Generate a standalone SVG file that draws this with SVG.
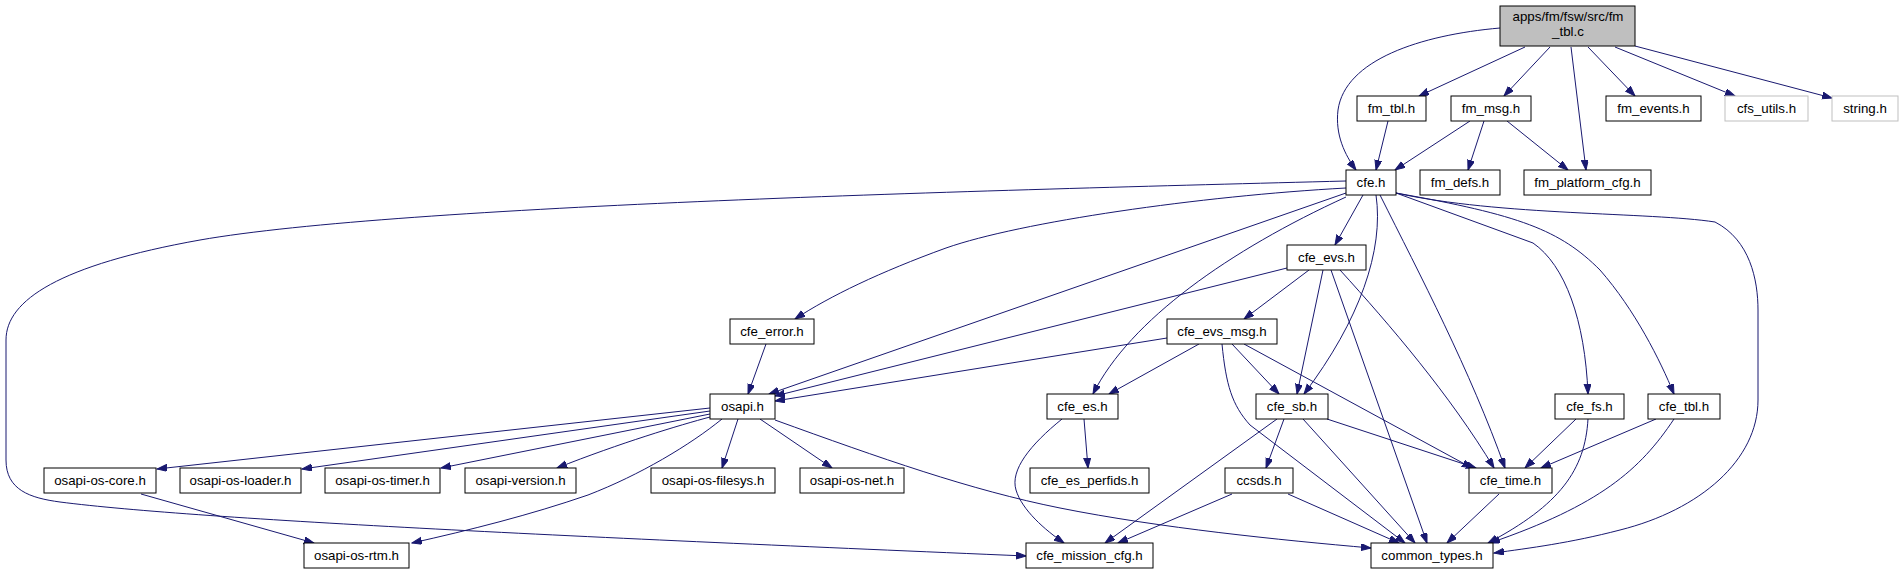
<svg xmlns="http://www.w3.org/2000/svg" width="1904" height="575" viewBox="0 0 1904 575">
<defs>
<marker id="ah" markerUnits="userSpaceOnUse" markerWidth="11" markerHeight="8" refX="10" refY="3.5" orient="auto">
<path d="M0,0 L10,3.5 L0,7 z" fill="#191970" stroke="#191970" stroke-width="1"/>
</marker>
<style>
.n rect{fill:#ffffff;stroke:#000000;stroke-width:1}
.n.g rect{stroke:#bfbfbf}
.n.r rect{fill:#bfbfbf}
.n text{font-family:"Liberation Sans",Arial,sans-serif;font-size:13.3px;fill:#000000;text-anchor:middle}
#edges path{fill:none;stroke:#191970;stroke-width:1;marker-end:url(#ah)}
</style>
</defs>
<rect width="1904" height="575" fill="#ffffff"/>
<g id="edges">
<path d="M1500,28 C1420,35 1345,60 1338,110 C1335,135 1345,155 1356,170"/>
<path d="M1525,47 L1419,96"/>
<path d="M1550,47 L1504,96"/>
<path d="M1571,47 L1586,170"/>
<path d="M1588,47 L1635,96"/>
<path d="M1615,47 L1735,96"/>
<path d="M1635,46 L1832,98"/>
<path d="M1388,121 L1376,170"/>
<path d="M1470,121 L1395,170"/>
<path d="M1484,121 L1468,170"/>
<path d="M1507,121 L1568,170"/>
<path d="M1346,181 C1000,190 400,205 200,240 C60,265 6,300 6,340 L6,460 C6,490 30,498 60,502 C200,520 600,538 1026,556"/>
<path d="M1346,188 C1200,196 1020,222 946,248 C880,272 830,296 795,319"/>
<path d="M1346,193 L769,394"/>
<path d="M1346,197 C1230,250 1130,320 1093,394"/>
<path d="M1363,195 L1335,245"/>
<path d="M1376,195 C1384,250 1360,320 1304,394"/>
<path d="M1380,195 C1420,275 1470,370 1505,468"/>
<path d="M1396,193 L1533,243 C1565,265 1585,320 1588,394"/>
<path d="M1396,193 C1520,215 1560,230 1600,270 C1635,310 1660,360 1674,394"/>
<path d="M1396,193 C1500,216 1650,212 1715,222 C1750,240 1758,280 1758,310 L1758,400 C1758,460 1700,510 1620,530 C1570,543 1530,548 1494,553"/>
<path d="M1287,268 L775,396"/>
<path d="M1309,270 L1244,319"/>
<path d="M1323,270 L1297,394"/>
<path d="M1331,270 L1427,543"/>
<path d="M1340,270 C1390,325 1450,395 1494,468"/>
<path d="M766,344 L748,394"/>
<path d="M1167,338 L775,401"/>
<path d="M1199,344 L1109,394"/>
<path d="M1222,344 C1226,385 1232,405 1250,425 L1405,543"/>
<path d="M1232,344 L1279,394"/>
<path d="M1244,344 L1472,468"/>
<path d="M710,408 L157,469"/>
<path d="M710,411 L302,469"/>
<path d="M710,414 L441,468"/>
<path d="M710,417 C680,425 620,443 557,468"/>
<path d="M722,419 C690,445 640,475 588,495 C530,515 470,530 412,543"/>
<path d="M738,419 L722,468"/>
<path d="M760,419 L832,468"/>
<path d="M775,420 C880,458 970,490 1060,508 C1160,528 1280,540 1371,548"/>
<path d="M141,494 L314,543"/>
<path d="M1084,419 L1088,468"/>
<path d="M1062,419 C1030,445 1010,470 1016,490 C1022,510 1045,530 1064,543"/>
<path d="M1277,419 L1105,543"/>
<path d="M1284,419 L1266,468"/>
<path d="M1303,419 L1415,543"/>
<path d="M1327,419 L1476,468"/>
<path d="M1232,494 L1118,543"/>
<path d="M1288,494 L1399,543"/>
<path d="M1499,494 L1447,543"/>
<path d="M1576,419 L1525,468"/>
<path d="M1588,419 C1585,470 1560,505 1488,543"/>
<path d="M1656,419 L1541,468"/>
<path d="M1674,419 C1640,470 1600,505 1490,543"/>
</g>
<g id="n_root" class="n r"><rect x="1500" y="6" width="135" height="40"/><text x="1568" y="21">apps/fm/fsw/src/fm</text><text x="1568" y="36">_tbl.c</text></g>
<g id="n_fm_tbl_h" class="n"><rect x="1357" y="96" width="69" height="25"/><text x="1391.5" y="113">fm_tbl.h</text></g>
<g id="n_fm_msg_h" class="n"><rect x="1451" y="96" width="80" height="25"/><text x="1491" y="113">fm_msg.h</text></g>
<g id="n_fm_events_h" class="n"><rect x="1606" y="96" width="95" height="25"/><text x="1653.5" y="113">fm_events.h</text></g>
<g id="n_cfs_utils_h" class="n g"><rect x="1725" y="96" width="83" height="25"/><text x="1766.5" y="113">cfs_utils.h</text></g>
<g id="n_string_h" class="n g"><rect x="1832" y="96" width="66" height="25"/><text x="1865" y="113">string.h</text></g>
<g id="n_cfe_h" class="n"><rect x="1346" y="170" width="50" height="25"/><text x="1371" y="187">cfe.h</text></g>
<g id="n_fm_defs_h" class="n"><rect x="1420" y="170" width="80" height="25"/><text x="1460" y="187">fm_defs.h</text></g>
<g id="n_fm_platform_cfg_h" class="n"><rect x="1524" y="170" width="127" height="25"/><text x="1587.5" y="187">fm_platform_cfg.h</text></g>
<g id="n_cfe_evs_h" class="n"><rect x="1287" y="245" width="79" height="25"/><text x="1326.5" y="262">cfe_evs.h</text></g>
<g id="n_cfe_error_h" class="n"><rect x="730" y="319" width="84" height="25"/><text x="772" y="336">cfe_error.h</text></g>
<g id="n_cfe_evs_msg_h" class="n"><rect x="1167" y="319" width="110" height="25"/><text x="1222" y="336">cfe_evs_msg.h</text></g>
<g id="n_osapi_h" class="n"><rect x="710" y="394" width="65" height="25"/><text x="742.5" y="411">osapi.h</text></g>
<g id="n_cfe_es_h" class="n"><rect x="1047" y="394" width="71" height="25"/><text x="1082.5" y="411">cfe_es.h</text></g>
<g id="n_cfe_sb_h" class="n"><rect x="1256" y="394" width="72" height="25"/><text x="1292" y="411">cfe_sb.h</text></g>
<g id="n_cfe_fs_h" class="n"><rect x="1555" y="394" width="69" height="25"/><text x="1589.5" y="411">cfe_fs.h</text></g>
<g id="n_cfe_tbl_h" class="n"><rect x="1648" y="394" width="72" height="25"/><text x="1684" y="411">cfe_tbl.h</text></g>
<g id="n_osapi_os_core_h" class="n"><rect x="44" y="468" width="112" height="25"/><text x="100" y="485">osapi-os-core.h</text></g>
<g id="n_osapi_os_loader_h" class="n"><rect x="180" y="468" width="121" height="25"/><text x="240.5" y="485">osapi-os-loader.h</text></g>
<g id="n_osapi_os_timer_h" class="n"><rect x="325" y="468" width="115" height="25"/><text x="382.5" y="485">osapi-os-timer.h</text></g>
<g id="n_osapi_version_h" class="n"><rect x="465" y="468" width="111" height="25"/><text x="520.5" y="485">osapi-version.h</text></g>
<g id="n_osapi_os_filesys_h" class="n"><rect x="651" y="468" width="124" height="25"/><text x="713" y="485">osapi-os-filesys.h</text></g>
<g id="n_osapi_os_net_h" class="n"><rect x="800" y="468" width="104" height="25"/><text x="852" y="485">osapi-os-net.h</text></g>
<g id="n_cfe_es_perfids_h" class="n"><rect x="1030" y="468" width="119" height="25"/><text x="1089.5" y="485">cfe_es_perfids.h</text></g>
<g id="n_ccsds_h" class="n"><rect x="1225" y="468" width="68" height="25"/><text x="1259" y="485">ccsds.h</text></g>
<g id="n_cfe_time_h" class="n"><rect x="1469" y="468" width="83" height="25"/><text x="1510.5" y="485">cfe_time.h</text></g>
<g id="n_osapi_os_rtm_h" class="n"><rect x="304" y="543" width="105" height="25"/><text x="356.5" y="560">osapi-os-rtm.h</text></g>
<g id="n_cfe_mission_cfg_h" class="n"><rect x="1026" y="543" width="127" height="25"/><text x="1089.5" y="560">cfe_mission_cfg.h</text></g>
<g id="n_common_types_h" class="n"><rect x="1371" y="543" width="122" height="25"/><text x="1432" y="560">common_types.h</text></g>
</svg>
